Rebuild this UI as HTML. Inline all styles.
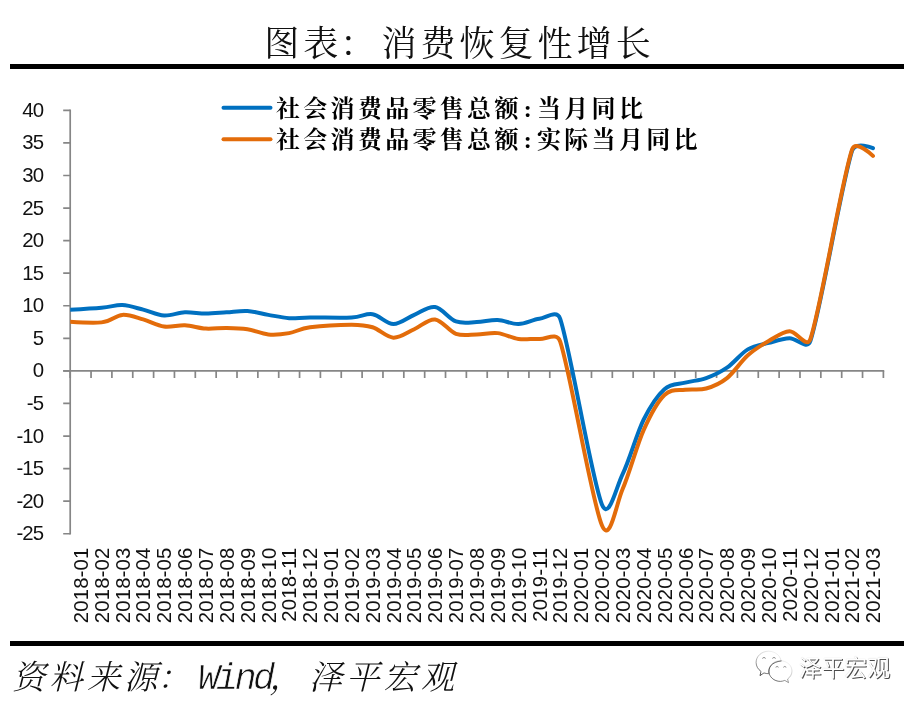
<!DOCTYPE html>
<html lang="zh-CN"><head><meta charset="utf-8"><title>图表：消费恢复性增长</title>
<style>
html,body{margin:0;padding:0;background:#fff;}
body{width:920px;height:709px;position:relative;overflow:hidden;}
.abs{position:absolute;white-space:nowrap;}
.rule{position:absolute;left:10px;width:894px;height:5px;background:#000;}
.title{left:0;width:920px;top:20px;height:50px;line-height:50px;text-align:center;font-family:"Liberation Serif","Noto Serif CJK SC",serif;font-size:35px;letter-spacing:4.05px;color:#111;font-weight:400;text-indent:-1px}
.leg{left:276px;font-family:"Liberation Serif","Noto Serif CJK SC",serif;font-weight:700;font-size:24px;letter-spacing:3.3px;color:#000;height:30px;line-height:30px}
.leg .c{display:inline-block;width:12px;margin-right:3.3px;letter-spacing:0;text-align:center}
.src{left:12px;top:655.5px;height:44px;line-height:44px;font-family:"Liberation Serif","Noto Serif CJK SC",serif;font-style:italic;font-size:33.5px;letter-spacing:3.83px;color:#111;font-weight:300}
.src .en{font-family:"Liberation Mono",monospace;font-size:37px;letter-spacing:-3.8px;font-weight:400;-webkit-text-stroke:0.7px #fff;margin-left:-1px}
.wm{left:799px;top:655px;height:28px;line-height:28px;font-family:"Liberation Sans","Noto Sans CJK SC",sans-serif;font-size:22.6px;letter-spacing:0.2px;color:#fff;text-shadow:1px 1px 0.6px rgba(0,0,0,.7),0 0 1px rgba(0,0,0,.22)}
</style></head><body>
<div class="abs title">图表<span style="position:relative;left:-2px">：</span>消费恢复性增长</div>
<div class="rule" style="top:64px"></div>
<div class="rule" style="top:641px"></div>
<svg width="920" height="709" viewBox="0 0 920 709" style="position:absolute;left:0;top:0">
<defs><clipPath id="plot"><rect x="70.2" y="100" width="830" height="450"/></clipPath></defs>
<g stroke="#868686" stroke-width="1.7" fill="none">
<path d="M70.20 109.49 V534.60"/>
<path d="M63.20 110.34 H70.20M63.20 142.91 H70.20M63.20 175.48 H70.20M63.20 208.05 H70.20M63.20 240.62 H70.20M63.20 273.19 H70.20M63.20 305.76 H70.20M63.20 338.33 H70.20M63.20 370.90 H70.20M63.20 403.47 H70.20M63.20 436.04 H70.20M63.20 468.61 H70.20M63.20 501.18 H70.20M63.20 533.75 H70.20"/>
<path d="M63.20 370.90 H884.24"/>
<path d="M70.20 370.90 V378.10M91.05 370.90 V378.10M111.90 370.90 V378.10M132.75 370.90 V378.10M153.60 370.90 V378.10M174.45 370.90 V378.10M195.31 370.90 V378.10M216.16 370.90 V378.10M237.01 370.90 V378.10M257.86 370.90 V378.10M278.71 370.90 V378.10M299.56 370.90 V378.10M320.41 370.90 V378.10M341.26 370.90 V378.10M362.11 370.90 V378.10M382.96 370.90 V378.10M403.82 370.90 V378.10M424.67 370.90 V378.10M445.52 370.90 V378.10M466.37 370.90 V378.10M487.22 370.90 V378.10M508.07 370.90 V378.10M528.92 370.90 V378.10M549.77 370.90 V378.10M570.62 370.90 V378.10M591.48 370.90 V378.10M612.33 370.90 V378.10M633.18 370.90 V378.10M654.03 370.90 V378.10M674.88 370.90 V378.10M695.73 370.90 V378.10M716.58 370.90 V378.10M737.43 370.90 V378.10M758.28 370.90 V378.10M779.13 370.90 V378.10M799.99 370.90 V378.10M820.84 370.90 V378.10M841.69 370.90 V378.10M862.54 370.90 V378.10M883.39 370.90 V378.10"/>
</g>
<g font-family="'Liberation Sans', sans-serif" font-size="20.4" letter-spacing="-0.9" fill="#111" text-anchor="end">
<text x="43.2" y="116.8">40</text>
<text x="43.2" y="149.4">35</text>
<text x="43.2" y="182.0">30</text>
<text x="43.2" y="214.5">25</text>
<text x="43.2" y="247.1">20</text>
<text x="43.2" y="279.7">15</text>
<text x="43.2" y="312.3">10</text>
<text x="43.2" y="344.8">5</text>
<text x="43.2" y="377.4">0</text>
<text x="43.2" y="410.0">-5</text>
<text x="43.2" y="442.5">-10</text>
<text x="43.2" y="475.1">-15</text>
<text x="43.2" y="507.7">-20</text>
<text x="43.2" y="540.2">-25</text>
</g>
<g font-family="'Liberation Sans', sans-serif" font-size="20.4" letter-spacing="0.1" fill="#111" text-anchor="end">
<text transform="translate(87.8 547.6) rotate(-90)" x="0" y="0">2018-01</text>
<text transform="translate(108.7 547.6) rotate(-90)" x="0" y="0">2018-02</text>
<text transform="translate(129.5 547.6) rotate(-90)" x="0" y="0">2018-03</text>
<text transform="translate(150.4 547.6) rotate(-90)" x="0" y="0">2018-04</text>
<text transform="translate(171.2 547.6) rotate(-90)" x="0" y="0">2018-05</text>
<text transform="translate(192.1 547.6) rotate(-90)" x="0" y="0">2018-06</text>
<text transform="translate(212.9 547.6) rotate(-90)" x="0" y="0">2018-07</text>
<text transform="translate(233.8 547.6) rotate(-90)" x="0" y="0">2018-08</text>
<text transform="translate(254.6 547.6) rotate(-90)" x="0" y="0">2018-09</text>
<text transform="translate(275.5 547.6) rotate(-90)" x="0" y="0">2018-10</text>
<text transform="translate(296.3 547.6) rotate(-90)" x="0" y="0">2018-11</text>
<text transform="translate(317.2 547.6) rotate(-90)" x="0" y="0">2018-12</text>
<text transform="translate(338.0 547.6) rotate(-90)" x="0" y="0">2019-01</text>
<text transform="translate(358.9 547.6) rotate(-90)" x="0" y="0">2019-02</text>
<text transform="translate(379.7 547.6) rotate(-90)" x="0" y="0">2019-03</text>
<text transform="translate(400.6 547.6) rotate(-90)" x="0" y="0">2019-04</text>
<text transform="translate(421.4 547.6) rotate(-90)" x="0" y="0">2019-05</text>
<text transform="translate(442.3 547.6) rotate(-90)" x="0" y="0">2019-06</text>
<text transform="translate(463.1 547.6) rotate(-90)" x="0" y="0">2019-07</text>
<text transform="translate(484.0 547.6) rotate(-90)" x="0" y="0">2019-08</text>
<text transform="translate(504.8 547.6) rotate(-90)" x="0" y="0">2019-09</text>
<text transform="translate(525.7 547.6) rotate(-90)" x="0" y="0">2019-10</text>
<text transform="translate(546.5 547.6) rotate(-90)" x="0" y="0">2019-11</text>
<text transform="translate(567.4 547.6) rotate(-90)" x="0" y="0">2019-12</text>
<text transform="translate(588.2 547.6) rotate(-90)" x="0" y="0">2020-01</text>
<text transform="translate(609.1 547.6) rotate(-90)" x="0" y="0">2020-02</text>
<text transform="translate(630.0 547.6) rotate(-90)" x="0" y="0">2020-03</text>
<text transform="translate(650.8 547.6) rotate(-90)" x="0" y="0">2020-04</text>
<text transform="translate(671.7 547.6) rotate(-90)" x="0" y="0">2020-05</text>
<text transform="translate(692.5 547.6) rotate(-90)" x="0" y="0">2020-06</text>
<text transform="translate(713.4 547.6) rotate(-90)" x="0" y="0">2020-07</text>
<text transform="translate(734.2 547.6) rotate(-90)" x="0" y="0">2020-08</text>
<text transform="translate(755.1 547.6) rotate(-90)" x="0" y="0">2020-09</text>
<text transform="translate(775.9 547.6) rotate(-90)" x="0" y="0">2020-10</text>
<text transform="translate(796.8 547.6) rotate(-90)" x="0" y="0">2020-11</text>
<text transform="translate(817.6 547.6) rotate(-90)" x="0" y="0">2020-12</text>
<text transform="translate(838.5 547.6) rotate(-90)" x="0" y="0">2021-01</text>
<text transform="translate(859.3 547.6) rotate(-90)" x="0" y="0">2021-02</text>
<text transform="translate(880.2 547.6) rotate(-90)" x="0" y="0">2021-03</text>
</g>
<g clip-path="url(#plot)" fill="none" stroke-width="4" stroke-linecap="round" stroke-linejoin="round">
<path stroke="#0070c0" d="M59.77 310.32 C59.77 310.32 91.05 308.58 101.48 307.71 C111.90 306.85 115.38 304.78 122.33 305.11 C129.28 305.43 136.23 307.93 143.18 309.67 C150.13 311.41 157.08 315.10 164.03 315.53 C170.98 315.97 177.93 312.60 184.88 312.27 C191.83 311.95 198.78 313.58 205.73 313.58 C212.68 313.58 219.63 312.71 226.58 312.27 C233.53 311.84 240.48 310.54 247.43 310.97 C254.38 311.41 261.33 313.69 268.28 314.88 C275.23 316.07 282.19 317.70 289.14 318.14 C296.09 318.57 299.56 317.59 309.99 317.49 C320.41 317.38 341.26 318.03 351.69 317.49 C362.11 316.94 365.59 313.14 372.54 314.23 C379.49 315.31 386.44 323.89 393.39 324.00 C400.34 324.11 407.29 317.70 414.24 314.88 C421.19 312.06 428.14 305.98 435.09 307.06 C442.04 308.15 448.99 318.90 455.94 321.39 C462.89 323.89 469.84 322.26 476.79 322.04 C483.74 321.83 490.70 319.77 497.65 320.09 C504.60 320.42 511.55 324.22 518.50 324.00 C525.45 323.78 532.40 319.66 539.35 318.79 C546.30 317.92 556.87 308.91 560.20 318.79 C570.62 349.73 591.47 478.60 601.90 504.44 C608.83 521.61 615.80 487.93 622.75 473.82 C629.70 459.71 636.65 433.87 643.60 419.75 C650.55 405.64 657.50 395.33 664.45 389.14 C671.40 382.95 678.35 384.47 685.30 382.63 C692.25 380.78 699.21 380.56 706.16 378.07 C713.11 375.57 720.06 372.42 727.01 367.64 C733.96 362.87 740.91 353.53 747.86 349.40 C754.81 345.28 761.76 344.74 768.71 342.89 C775.66 341.04 782.61 338.66 789.56 338.33 C796.51 338.00 807.09 350.90 810.41 340.94 C820.84 309.67 841.69 182.86 852.11 150.73 C855.35 140.73 872.96 148.12 872.96 148.12"/>
<path stroke="#e36c0a" d="M59.77 321.07 C59.77 321.07 91.05 323.40 101.48 322.37 C111.90 321.34 115.38 315.37 122.33 314.88 C129.28 314.39 136.23 317.49 143.18 319.44 C150.13 321.39 157.08 325.63 164.03 326.60 C170.98 327.58 177.93 324.98 184.88 325.30 C191.83 325.63 198.78 328.12 205.73 328.56 C212.68 328.99 219.63 327.80 226.58 327.91 C233.53 328.02 240.48 328.12 247.43 329.21 C254.38 330.30 261.33 333.77 268.28 334.42 C275.23 335.07 282.19 334.31 289.14 333.12 C296.09 331.92 299.56 328.67 309.99 327.26 C320.41 325.84 341.26 324.65 351.69 324.65 C362.11 324.65 365.59 325.08 372.54 327.26 C379.49 329.43 386.44 337.35 393.39 337.68 C400.34 338.00 407.29 332.25 414.24 329.21 C421.19 326.17 428.14 318.68 435.09 319.44 C442.04 320.20 448.99 331.27 455.94 333.77 C462.89 336.27 469.84 334.53 476.79 334.42 C483.74 334.31 490.70 332.36 497.65 333.12 C504.60 333.88 511.55 338.00 518.50 338.98 C525.45 339.96 532.40 338.55 539.35 338.98 C546.30 339.42 556.85 331.63 560.20 341.59 C570.62 372.64 591.47 500.75 601.90 525.28 C610.12 544.62 615.80 504.65 622.75 488.80 C629.70 472.95 636.65 445.81 643.60 430.18 C650.55 414.54 657.50 401.73 664.45 395.00 C671.40 388.27 678.35 390.88 685.30 389.79 C692.25 388.70 699.21 390.44 706.16 388.49 C713.11 386.53 720.06 383.60 727.01 378.07 C733.96 372.53 740.91 361.45 747.86 355.27 C754.81 349.08 761.76 344.95 768.71 340.94 C775.66 336.92 782.61 331.49 789.56 331.16 C796.51 330.84 806.79 349.51 810.41 338.98 C820.84 308.69 841.69 179.93 852.11 149.42 C855.64 139.09 872.96 155.94 872.96 155.94"/>
</g>
<path d="M223.5 107.8 H270.5" stroke="#0070c0" stroke-width="4" stroke-linecap="round"/>
<path d="M223.5 139.2 H270.5" stroke="#e36c0a" stroke-width="4" stroke-linecap="round"/>
<linearGradient id="wg" x1="0.8" y1="0" x2="0.2" y2="1"><stop offset="0" stop-color="#555" stop-opacity="0.05"/><stop offset="0.55" stop-color="#555" stop-opacity="0.45"/><stop offset="1" stop-color="#333" stop-opacity="0.95"/></linearGradient>
<g fill="#fff" stroke="url(#wg)" stroke-width="0.9">
<path d="M768.6 651.2 C775.5 651.2 781.2 656.2 781.2 662.4 C781.2 668.6 775.5 673.7 768.6 673.7 C767 673.7 765.4 673.4 764 672.9 L760 675.6 L761 671.4 C758 669.3 756.1 666.1 756.1 662.4 C756.1 656.2 761.7 651.2 768.6 651.2 Z"/>
<path d="M780.4 660.7 C786.8 660.7 792 665.3 792 671 C792 674.2 790.3 677.1 787.6 679 L788.5 682.6 L784.8 680.4 C783.4 680.9 781.9 681.4 780.4 681.4 C774 681.4 768.8 676.7 768.8 671 C768.8 665.3 774 660.7 780.4 660.7 Z"/>
</g>
<path d="M769 673.5 C768.2 667.5 771.5 662 781.5 660.9" fill="none" stroke="#333" stroke-width="0.9" stroke-opacity="0.8"/>
<g fill="none" stroke="#666" stroke-width="0.8" stroke-opacity="0.8"><path d="M762.6 658.8 a1.4 1.4 0 0 1 2.8 0 M772.6 658.8 a1.4 1.4 0 0 1 2.8 0 M775.9 667.6 a1.2 1.2 0 0 1 2.4 0 M783.6 667.6 a1.2 1.2 0 0 1 2.4 0"/></g>
</svg>
<div class="abs leg" style="top:94px">社会消费品零售总额<span class="c">:</span>当月同比</div>
<div class="abs leg" style="top:125px">社会消费品零售总额<span class="c">:</span>实际当月同比</div>
<div class="abs src">资料来源<span style="position:relative;left:-4px">：</span><span class="en">Wind</span><span style="position:relative;left:-2px">，</span>泽平宏观</div>
<div class="abs wm">泽平宏观</div>
</body></html>
